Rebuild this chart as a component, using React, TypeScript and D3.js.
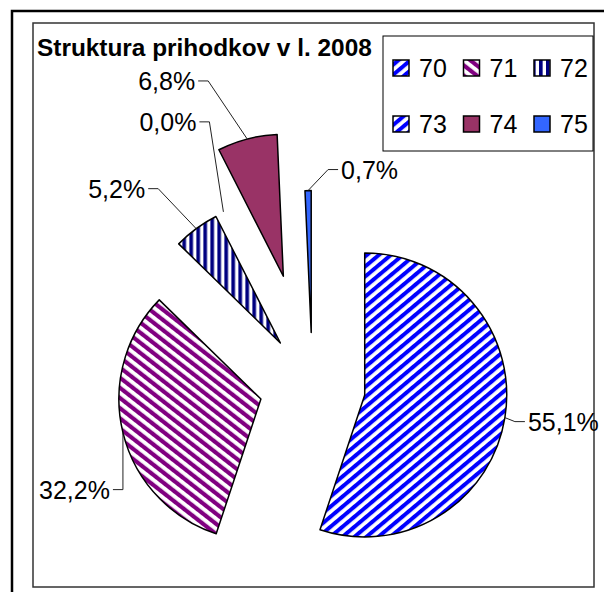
import React from "react";
import * as d3 from "d3";

const categories = ["70", "71", "72", "73", "74", "75"];
const shares = [55.1, 32.2, 5.2, 0.0, 6.8, 0.7];
const title = "Struktura prihodkov v l. 2008";

// how far each slice is pulled out of the pie
const explode = [53, 53, 54, 54, 114, 54];
// label anchor, relative to the point where the leader touches the slice
const labelOffset: [number, number][] = [
  [23, 4],
  [-13, 57],
  [-51, -40],
  [-27, -90],
  [-52, -58],
  [33, -21],
];

const fills = ["url(#p70)", "url(#p71)", "url(#p72)", "url(#p70)", "#993366", "#3366ff"];
const fmt = (v: number) => d3.format(".1f")(v).replace(".", ",") + "%";

const W = 604;
const H = 592;
const cx = 312.4;
const cy = 386.5;
const R = 142;

function Stripes({ id, color, angle, period }: { id: string; color: string; angle: number; period: number }) {
  return (
    <pattern id={id} patternUnits="userSpaceOnUse" width={period} height={period} patternTransform={`rotate(${angle})`}>
      <rect width={period} height={period} fill="#fff" />
      <rect width={period * 0.52} height={period} fill={color} />
    </pattern>
  );
}

export default function App() {
  const pie = d3.pie<number>().sort(null).value((d) => d);
  const arcs = pie(shares);
  const arc = d3.arc<d3.PieArcDatum<number>>().innerRadius(0).outerRadius(R);

  const slices = arcs.map((a, i) => {
    const mid = (a.startAngle + a.endAngle) / 2;
    const ox = Math.sin(mid) * explode[i];
    const oy = -Math.cos(mid) * explode[i];
    const px = cx + Math.sin(mid) * (explode[i] + R);
    const py = cy - Math.cos(mid) * (explode[i] + R);
    const lx = px + labelOffset[i][0];
    const ly = py + labelOffset[i][1];
    const right = labelOffset[i][0] > 0;
    const kx = right ? lx - 3 : lx + 3;
    const bend = right ? kx - 10 : kx + 10;
    const line = d3.line()([
      [kx, ly],
      [bend, ly],
      [px, py],
    ]);
    return { a, i, ox, oy, lx, ly, right, line };
  });

  return (
    <svg width={W} height={H} style={{ position: "fixed", left: 0, top: 0, background: "#fff" }} fontFamily="'Liberation Sans', Arial, sans-serif">
      <defs>
        <Stripes id="p70" color="#0000ff" angle={50} period={7.7} />
        <Stripes id="p71" color="#800080" angle={-52} period={8} />
        <Stripes id="p72" color="#000080" angle={0} period={7} />
      </defs>
      <rect x={12} y={11} width={W} height={H} fill="none" stroke="#000" strokeWidth={2.5} />
      <rect x={33} y={23} width={561} height={564} fill="none" stroke="#333" strokeWidth={1.5} />

      <text x={37} y={56} fontSize={24.4} fontWeight="bold">{title}</text>

      {slices
        .filter((s) => s.a.value > 0)
        .map((s) => (
          <path
            key={s.i}
            d={arc(s.a) || ""}
            transform={`translate(${cx + s.ox},${cy + s.oy})`}
            fill={fills[s.i]}
            stroke="#000"
            strokeWidth={1.5}
            strokeLinejoin="round"
          />
        ))}

      {slices.map((s) => (
        <g key={"l" + s.i}>
          <path d={s.line || ""} fill="none" stroke="#222" strokeWidth={1} />
          <text x={s.lx} y={s.ly + 9} fontSize={25} textAnchor={s.right ? "start" : "end"}>
            {fmt(shares[s.i])}
          </text>
        </g>
      ))}

      <rect x={383} y={36} width={210} height={115} fill="#fff" stroke="#000" strokeWidth={1} />
      {categories.map((c, i) => {
        const x = 393 + (i % 3) * 70.5;
        const y = 60 + Math.floor(i / 3) * 56;
        return (
          <g key={c}>
            <rect x={x} y={y} width={16} height={16} fill={fills[i]} stroke="#000" strokeWidth={1.5} />
            <text x={x + 26} y={y + 17} fontSize={25}>{c}</text>
          </g>
        );
      })}
    </svg>
  );
}
